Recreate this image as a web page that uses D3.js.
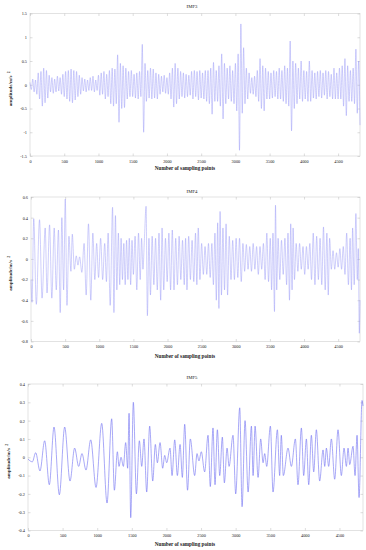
<!DOCTYPE html>
<html><head><meta charset="utf-8">
<script src="https://cdn.jsdelivr.net/npm/d3@7"></script>
<style>
html,body{margin:0;padding:0;background:#fff;}
svg{display:block;}
text{font-family:"Liberation Serif","Times New Roman",serif;fill:#222;}
</style>
</head><body>
<script>
// ---------- data ----------
const xTicks = [0,500,1000,1500,2000,2500,3000,3500,4000,4500];
const xLabel = "Number of sampling points";
const yLabelMain = "amplitude/m/s";
const yLabelSup = "2";
const titles = ["IMF3","IMF4","IMF5"];

const imf3Ticks = [-1.5,-1,-0.5,0,0.5,1,1.5];
const imf4Ticks = [-0.8,-0.6,-0.4,-0.2,0,0.2,0.4,0.6];
const imf5Ticks = [-0.4,-0.3,-0.2,-0.1,0,0.1,0.2,0.3,0.4];

// IMF3: successive extrema, one every 20 samples
const imf3Step = 20;
const imf3Values = [
 0.05,-0.1,0.12,-0.15,0.1,-0.2,0.25,-0.3,0.28,-0.45,0.35,-0.38,0.3,-0.28,0.2,-0.15,0.15,-0.18,0.12,-0.15,0.18,-0.13,0.15,-0.2,0.22,
 -0.25,0.28,-0.3,0.3,-0.35,0.33,-0.38,0.3,-0.32,0.28,-0.25,0.2,-0.2,0.15,-0.13,0.12,-0.15,0.1,-0.12,0.15,-0.12,0.18,-0.15,0.1,-0.12,
 0.2,-0.22,0.25,-0.2,0.28,-0.3,0.22,-0.25,0.3,-0.4,0.35,-0.45,0.33,-0.4,0.63,-0.79,0.45,-0.5,0.4,-0.48,0.35,-0.3,0.28,-0.25,0.3,
 -0.25,0.22,-0.28,0.25,-0.3,0.28,-0.25,0.85,-1.0,0.45,-0.35,0.3,-0.28,0.35,-0.3,0.33,-0.28,0.25,-0.3,0.22,-0.2,0.18,-0.15,0.2,-0.18,
 0.15,-0.2,0.25,-0.3,0.35,-0.47,0.45,-0.4,0.35,-0.3,0.28,-0.25,0.25,-0.28,0.22,-0.25,0.2,-0.22,0.28,-0.3,0.3,-0.25,0.28,-0.32,0.3,
 -0.28,0.25,-0.3,0.3,-0.35,0.3,-0.4,0.35,-0.62,0.47,-0.35,0.3,-0.35,0.4,-0.45,0.65,-0.72,0.45,-0.4,0.35,-0.3,0.4,-0.35,0.3,-0.4,
 0.45,-0.55,0.65,-1.38,1.28,-0.6,0.78,-0.4,0.35,-0.3,0.25,-0.18,0.15,-0.2,0.18,-0.25,0.3,-0.35,0.55,-0.5,0.4,-0.55,0.35,-0.3,0.28,
 -0.3,0.25,-0.28,0.3,-0.25,0.28,-0.3,0.35,-0.3,0.3,-0.35,0.4,-0.4,0.35,-0.45,0.92,-0.97,0.5,-0.5,0.45,-0.4,0.35,-0.3,0.5,-0.35,
 0.3,-0.3,0.28,-0.35,0.5,-0.35,0.3,-0.28,0.25,-0.3,0.28,-0.25,0.3,-0.28,0.25,-0.22,0.3,-0.3,0.28,-0.25,0.22,-0.3,0.35,-0.3,0.25,
 -0.3,0.35,-0.3,0.4,-0.45,0.55,-0.65,0.4,-0.35,0.3,-0.35,0.35,-0.4,0.75,-0.6,0.5,-0.85
];

// IMF4: extrema positions (sample index) and values
const imf4Pos = [0,15,40,78,125,162,208,235,272,305,340,370,402,428,452,478,502,527,556,585,605,635,663,688,712,
 745,778,808,842,876,906,935,962,990,1020,1050,1080,1105,1130,1160,1195,1215,1237,1258,1280,1300,1320,1340,1360,1380,1400,1420,1440,1460,1480,
 1500,1525,1550,1575,1600,1620,1640,1662,1686,1705,1728,1750,1775,1800,1825,1850,1875,1900,1920,1945,1970,1995,2020,2045,2070,2095,2120,2145,2170,2195,2220,
 2245,2265,2285,2310,2335,2360,2385,2410,2430,2450,2475,2500,2525,2550,2575,2600,2625,2650,2672,2695,2715,2735,2753,2770,2790,2812,2835,2858,2880,2905,2930,2955,2980,
 3005,3030,3055,3080,3105,3130,3155,3180,3205,3230,3255,3280,3305,3330,3355,3380,3405,3430,3455,3480,3505,3525,3545,3567,3582,3600,3620,3645,3670,3695,3720,3745,3765,3787,3805,3825,3840,3860,3885,3910,3935,3960,3985,
 4010,4035,4060,4085,4110,4135,4160,4185,4210,4235,4260,4285,4310,4335,4355,4375,4400,4425,4450,4475,4500,4525,4550,4575,4600,4625,4650,4675,4695,4712,4735,4760,4780,4795,4810,4820];
const imf4Val = [-0.2,-0.42,0.39,-0.44,0.38,-0.38,0.3,-0.33,0.33,-0.38,0.3,-0.3,0.28,-0.52,0.4,-0.3,0.58,-0.45,0.22,-0.12,0.24,-0.1,0.03,-0.06,0.02,
 -0.13,0.15,-0.35,0.34,-0.4,0.25,-0.2,0.15,-0.18,0.2,-0.2,0.15,-0.22,0.25,-0.45,0.5,-0.52,0.42,-0.3,0.25,-0.25,0.2,-0.2,0.15,-0.25,0.18,-0.2,0.2,-0.25,0.18,
 -0.15,0.22,-0.3,0.25,-0.2,0.2,-0.1,0.2,0.51,-0.55,0.2,-0.35,0.22,-0.25,0.2,-0.3,0.25,-0.4,0.3,-0.3,0.2,-0.22,0.25,-0.3,0.28,-0.3,0.2,-0.25,0.22,-0.2,0.18,
 -0.25,0.2,-0.3,0.22,-0.2,0.18,-0.22,0.25,-0.25,0.3,-0.2,0.15,-0.15,0.12,-0.15,0.15,-0.18,0.15,-0.25,0.25,-0.4,0.35,-0.48,0.46,-0.35,0.3,-0.3,0.34,-0.35,0.22,-0.2,0.18,-0.2,
 0.2,-0.18,0.2,-0.22,0.15,-0.12,0.14,-0.1,0.12,-0.12,0.15,-0.1,0.12,-0.15,0.12,-0.1,0.15,-0.2,0.25,-0.22,0.2,-0.3,0.25,-0.51,0.52,-0.3,0.2,-0.2,0.18,-0.15,0.2,-0.25,0.25,-0.4,0.34,-0.3,0.3,-0.2,0.15,-0.12,0.15,-0.1,0.12,
 -0.15,0.12,-0.1,0.15,-0.2,0.25,-0.25,0.22,-0.2,0.2,-0.25,0.31,-0.3,0.25,-0.35,0.2,-0.1,0.08,-0.1,0.06,-0.08,0.1,-0.1,0.12,-0.15,0.25,-0.25,0.2,-0.3,0.3,-0.25,0.44,-0.2,0.1,-0.72,-0.4];

// IMF5: extrema positions (sample index) and values
const imf5Pos = [0,63,111,173,241,308,376,453,530,607,674,732,780,838,906,983,1065,1142,1209,1248,1291,1315,1344,1378,1411,1440,1460,1484,1522,1566,1609,1643,1676,1715,1758,1802,1840,1869,1908,1946,1975,2004,2052,2081,2120,2158,2197,2230,
 2264,2305,2345,2408,2442,2470,2504,2552,2601,2634,2673,2702,2736,2770,2808,2837,2876,2905,2962,3001,3059,3093,3136,3180,3228,3252,3281,3324,3362,3396,3420,3449,3502,3540,3603,3636,3660,3689,3757,3805,3863,3901,3950,3983,4022,4056,4094,4128,4166,4214,4263,4287,4311,4344,4383,4431,4479,4527,4566,4600,4624,4648,4696,4725,4754,4783,4826,4840];
const imf5Val = [-0.01,-0.025,0.025,-0.075,0.09,-0.15,0.165,-0.205,0.165,-0.13,0.05,-0.05,0.02,-0.07,0.095,-0.165,0.185,-0.25,0.21,-0.18,0.03,-0.05,0.0,-0.05,0.08,-0.06,0.24,-0.33,0.3,-0.2,0.09,-0.05,0.1,-0.19,0.17,-0.13,0.07,-0.03,0.08,-0.06,0.01,-0.03,0.05,-0.1,0.095,-0.1,0.07,-0.11,
 0.18,-0.18,0.1,-0.1,0.02,-0.02,0.03,-0.08,0.12,-0.16,0.16,-0.15,0.15,-0.1,0.11,-0.14,0.05,-0.05,0.12,-0.2,0.27,-0.27,0.2,-0.19,0.17,-0.1,0.17,-0.11,0.1,-0.03,0.02,-0.05,0.17,-0.19,0.15,-0.1,0.12,-0.1,0.05,-0.05,0.1,-0.15,0.16,-0.1,0.1,-0.15,0.12,-0.08,0.15,-0.13,0.04,-0.05,0.05,-0.05,0.1,-0.12,0.15,-0.1,0.05,-0.05,0.05,-0.04,0.06,-0.1,0.12,-0.22,0.31,0.28];

// ---------- drawing ----------
const W = 366, H = 550;
const svg = d3.select("body").append("svg").attr("width", W).attr("height", H);

const panels = [
  {title: titles[0], data: imf3Values.map((v,i)=>[i*imf3Step, v]), yDomain:[-1.5,1.5], yTicks: imf3Ticks, xMax: 4820,
   left:30, right:360, top:13.5, bottom:156, titleY:7.5, xlabY:169.5, ylabX:12, color:"#9494f7", width:0.45},
  {title: titles[1], data: imf4Pos.map((p,i)=>[p, imf4Val[i]]), yDomain:[-0.8,0.6], yTicks: imf4Ticks, xMax: 4820,
   left:31, right:360, top:197, bottom:341.5, titleY:192.5, xlabY:357.5, ylabX:12, color:"#9494f7", width:0.45},
  {title: titles[2], data: imf5Pos.map((p,i)=>[p, imf5Val[i]]), yDomain:[-0.4,0.4], yTicks: imf5Ticks, xMax: 4840,
   left:28, right:363, top:384, bottom:530.5, titleY:378.5, xlabY:545.5, ylabX:10, color:"#6e6ef2", width:0.6}
];

const fmt = d => String(+d.toFixed(2));

panels.forEach((p, k) => {
  const x = d3.scaleLinear().domain([0, p.xMax]).range([p.left, p.right]);
  const y = d3.scaleLinear().domain(p.yDomain).range([p.bottom, p.top]);
  const g = svg.append("g");

  g.append("rect").attr("x", p.left).attr("y", p.top)
    .attr("width", p.right - p.left).attr("height", p.bottom - p.top)
    .attr("fill", "#fff").attr("stroke", "#cfcfcf").attr("stroke-width", 0.6);

  const styleAxis = sel => {
    sel.select(".domain").remove();
    sel.selectAll(".tick line").attr("stroke", "#bbb").attr("stroke-width", 0.5);
    sel.selectAll(".tick text").attr("font-size", "4.3px").attr("fill", "#333");
  };

  g.append("g").attr("transform", `translate(0,${p.bottom})`)
    .call(d3.axisBottom(x).tickValues(xTicks).tickFormat(fmt).tickSize(-2.5).tickPadding(3.5))
    .call(styleAxis);
  g.append("g").attr("transform", `translate(0,${p.top})`)
    .call(d3.axisTop(x).tickValues(xTicks).tickFormat("").tickSize(-2.5))
    .call(styleAxis);
  g.append("g").attr("transform", `translate(${p.left},0)`)
    .call(d3.axisLeft(y).tickValues(p.yTicks).tickFormat(fmt).tickSize(-2.5).tickPadding(3))
    .call(styleAxis);
  g.append("g").attr("transform", `translate(${p.right},0)`)
    .call(d3.axisRight(y).tickValues(p.yTicks).tickFormat("").tickSize(-2.5))
    .call(styleAxis);

  const line = d3.line().x(d => x(d[0])).y(d => y(d[1])).curve(d3.curveMonotoneX);
  g.append("path").datum(p.data).attr("d", line)
    .attr("fill", "none").attr("stroke", p.color).attr("stroke-width", p.width)
    .attr("stroke-linejoin", "round");

  g.append("text").attr("x", 192).attr("y", p.titleY).attr("text-anchor", "middle")
    .attr("font-size", "4.8px").text(p.title);
  g.append("text").attr("x", 185).attr("y", p.xlabY).attr("text-anchor", "middle")
    .attr("font-size", "5.2px").attr("font-weight", "bold").text(xLabel);
  const cy = (p.top + p.bottom) / 2 + 4;
  const t = g.append("text").attr("transform", `translate(${p.ylabX},${cy}) rotate(-90)`)
    .attr("text-anchor", "middle").attr("font-size", "5px").attr("font-weight", "bold");
  t.append("tspan").text(yLabelMain);
  t.append("tspan").attr("dx", "2.5").attr("dy", "-2.2").attr("font-size", "3.6px").text(yLabelSup);
});
</script>
</body></html>
